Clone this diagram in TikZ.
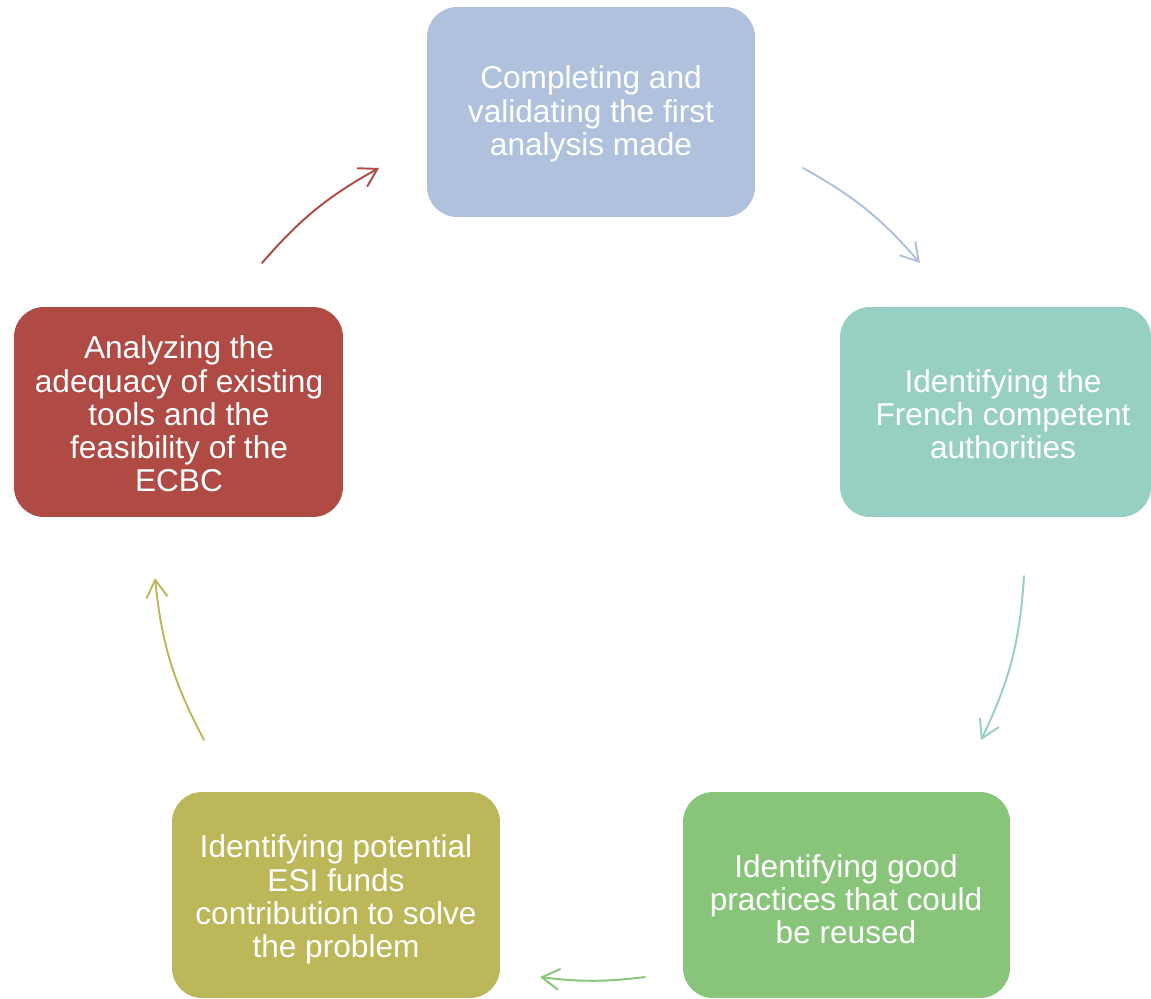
\documentclass[tikz,border=0pt]{standalone}
\usepackage{fontspec}
\setmainfont{Liberation Sans}
\usetikzlibrary{arrows.meta}
\definecolor{cblue}{HTML}{B0C1DD}
\definecolor{cteal}{HTML}{97D0C2}
\definecolor{cgreen}{HTML}{88C57A}
\definecolor{colive}{HTML}{BCB85A}
\definecolor{cred}{HTML}{AF4A45}
\tikzset{
  box/.style={draw=none, rounded corners=0.6cm, inner sep=0pt},
  txt/.style={text=white, align=center, font=\fontsize{18}{18.9}\selectfont, inner sep=0pt},
  conn/.style={line width=1.1pt, line cap=round, -{Straight Barb[length=10pt,width=12pt,line width=1.1pt]}}
}
\begin{document}
\begin{tikzpicture}[x=0.02cm,y=-0.02cm]
\useasboundingbox (0,0) rectangle (1151,999);
% boxes
\node[box, fill=cblue, minimum width=6.56cm, minimum height=4.2cm] (b1) at (591,112) {};
\node[box, fill=cteal, minimum width=6.22cm, minimum height=4.2cm] (b2) at (995.5,412) {};
\node[box, fill=cgreen, minimum width=6.54cm, minimum height=4.12cm] (b3) at (846.5,895) {};
\node[box, fill=colive, minimum width=6.56cm, minimum height=4.12cm] (b4) at (336,895) {};
\node[box, fill=cred, minimum width=6.58cm, minimum height=4.2cm] (b5) at (178.5,412) {};
% texts
\node[txt] (t1) at (591,114) {Completing and\\validating the first\\analysis made};
\node[txt] (t2) at (1003,414) {Identifying the\\French competent\\authorities};
\node[txt] (t3) at (846,899) {Identifying good\\practices that could\\be reused};
\node[txt] (t4) at (336,899.5) {Identifying potential\\ESI funds\\contribution to solve\\the problem};
\node[txt] (t5) at (179,414) {Analyzing the\\adequacy of existing\\tools and the\\feasibility of the\\ECBC};
% connector ends
\coordinate (a1s) at (803,168); \coordinate (a1e) at (920,263);
\coordinate (a2s) at (1024,576); \coordinate (a2e) at (981,740);
\coordinate (a3s) at (645,977); \coordinate (a3e) at (540,977);
\coordinate (a4s) at (204,740); \coordinate (a4e) at (155,578);
\coordinate (a5s) at (262,263); \coordinate (a5e) at (379,168);
% connectors
\draw[conn, cblue] (a1s) to[bend left=10] (a1e);
\draw[conn, cteal] (a2s) to[bend left=11] (a2e);
\draw[conn, cgreen] (a3s) to[bend left=7] (a3e);
\draw[conn, colive] (a4s) to[bend left=11] (a4e);
\draw[conn, cred] (a5s) to[bend left=10] (a5e);
\end{tikzpicture}
\end{document}
